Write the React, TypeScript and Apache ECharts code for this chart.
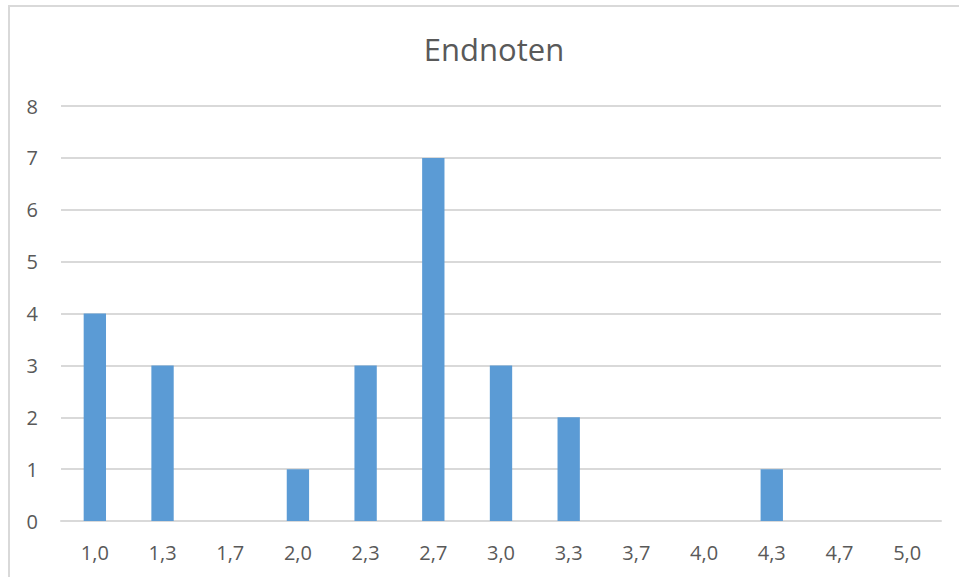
import React, { useEffect, useRef } from "react";
import * as echarts from "echarts";

const categories = ["1,0", "1,3", "1,7", "2,0", "2,3", "2,7", "3,0", "3,3", "3,7", "4,0", "4,3", "4,7", "5,0"];
const counts = [4, 3, 0, 1, 3, 7, 3, 2, 0, 0, 1, 0, 0];
const titleText = "Endnoten";

const FONT = "'Open Sans', 'Noto Sans', sans-serif";
const TEXT = "#595959";

export default function App() {
  const ref = useRef<HTMLDivElement>(null);
  useEffect(() => {
    const chart = echarts.init(ref.current!, null, { renderer: "svg" });
    chart.setOption({
      animation: false,
      backgroundColor: "#ffffff",
      title: {
        text: titleText,
        left: 489,
        textAlign: "center",
        top: 28,
        textStyle: { fontFamily: FONT, fontSize: 31, fontWeight: "normal", color: TEXT },
      },
      graphic: [
        {
          type: "rect",
          shape: { x: 9, y: 6, width: 1000, height: 1000 },
          style: { fill: "none", stroke: "#d9d9d9", lineWidth: 2 },
          silent: true,
        },
      ],
      grid: { left: 61, right: 18, top: 106, bottom: 56 },
      xAxis: {
        type: "category",
        data: categories,
        axisLine: { show: true, lineStyle: { color: "#d9d9d9", width: 2 } },
        axisTick: { show: false },
        axisLabel: { fontFamily: FONT, fontSize: 20, color: TEXT, margin: 21, interval: 0 },
      },
      yAxis: {
        type: "value",
        min: 0,
        max: 8,
        interval: 1,
        axisLine: { show: false },
        axisTick: { show: false },
        axisLabel: { fontFamily: FONT, fontSize: 20, color: TEXT, margin: 23 },
        splitLine: { lineStyle: { color: "#d9d9d9", width: 2 } },
      },
      series: [
        {
          type: "bar",
          data: counts,
          barWidth: "33%",
          itemStyle: { color: "#5b9bd5" },
        },
      ],
    });
    return () => chart.dispose();
  }, []);
  return (
    <div
      ref={ref}
      style={{ position: "absolute", left: 0, top: 0, width: 959, height: 577 }}
    />
  );
}
